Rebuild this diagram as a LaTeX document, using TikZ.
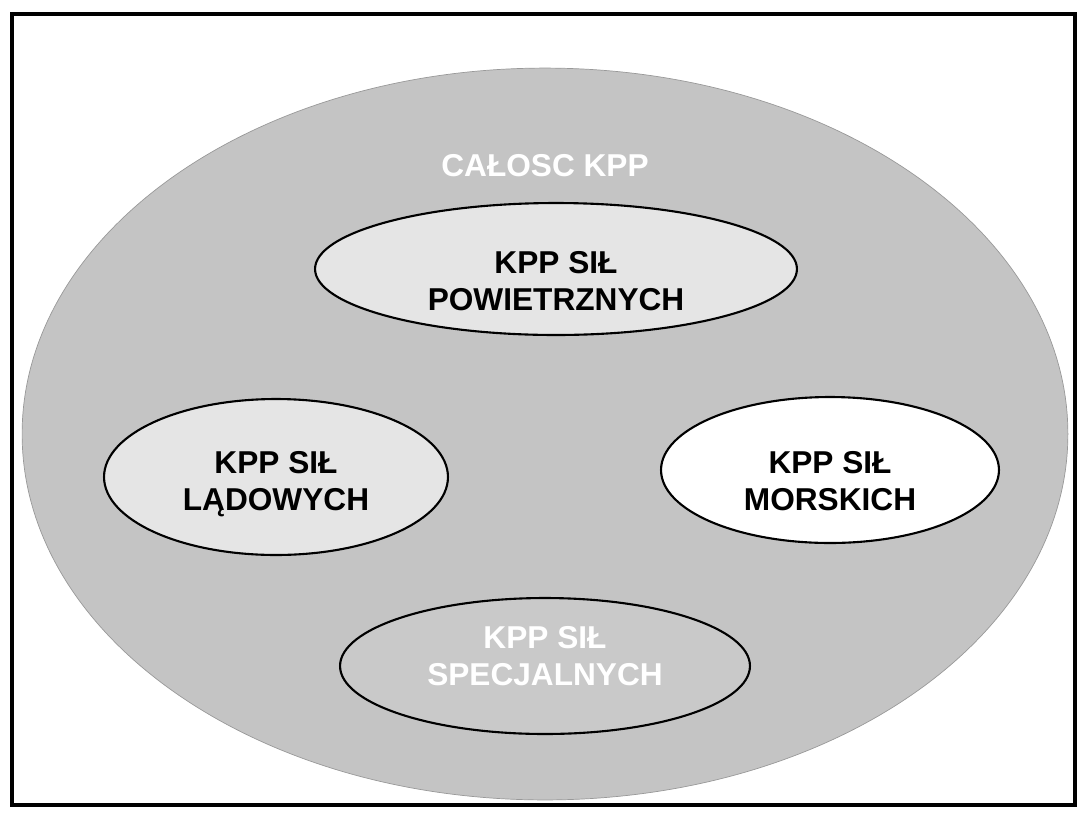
\documentclass[tikz,border=0pt]{standalone}
\usepackage{fontspec}
\setmainfont{Liberation Sans}
\usetikzlibrary{shapes.geometric,calc}
\definecolor{fieldgray}{gray}{0.77}
\definecolor{partgray}{gray}{0.9}

\begin{document}
\begin{tikzpicture}[x=0.02cm,y=-0.02cm,
   font=\fontsize{18}{21}\selectfont\bfseries,
   area/.style={ellipse,inner sep=0pt},
   part/.style={area,draw,line width=1.2pt},
   txt/.style={align=center,inner sep=0pt}]
  \useasboundingbox (0,0) rectangle (1089,819);
  \draw[line width=2pt] (12,14) rectangle (1075,805);
  % whole area
  \node[area,fill=fieldgray,draw=black!40,line width=0.4pt,
        minimum width=20.92cm,minimum height=14.64cm] (all) at (545,434) {};
  \node[txt,white] (allt) at (545,166) {CAŁOSC KPP};
  % single services
  \node[part,fill=partgray,minimum width=9.64cm,minimum height=2.64cm] (air) at (556,269) {};
  \node[part,fill=partgray,minimum width=6.88cm,minimum height=3.12cm] (land) at (276,477) {};
  \node[part,fill=white,minimum width=6.76cm,minimum height=2.92cm] (sea) at (830,470) {};
  \node[part,fill=fieldgray!92!white,minimum width=8.2cm,minimum height=2.72cm] (spec) at (545,666) {};
  \node[txt] (airt) at ($(air)+(0,12)$) {KPP SIŁ\\POWIETRZNYCH};
  \node[txt] (landt) at ($(land)+(0,7)$) {KPP SIŁ\\LĄDOWYCH};
  \node[txt] (seat) at ($(sea)+(0,11)$) {KPP SIŁ\\MORSKICH};
  \node[txt,white] (spect) at ($(spec)+(0,-10)$) {KPP SIŁ\\SPECJALNYCH};
\end{tikzpicture}
\end{document}
